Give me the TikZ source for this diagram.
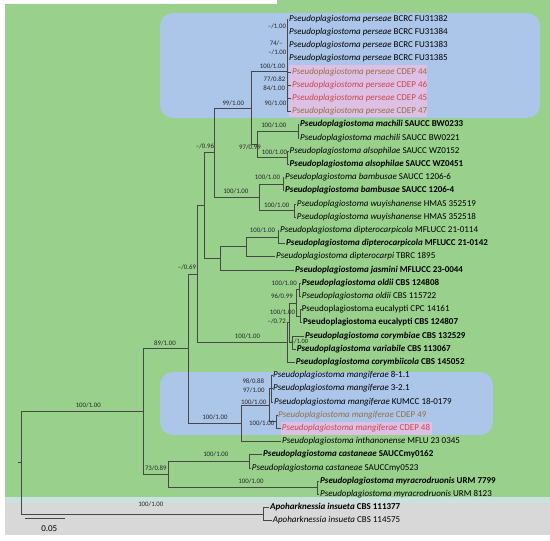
\documentclass[tikz,border=0pt]{standalone}
\usepackage{fontspec}
\setmainfont{Carlito}
\definecolor{bggreen}{RGB}{152,208,140}
\definecolor{bgblue}{RGB}{172,198,234}
\definecolor{bggrey}{RGB}{216,216,216}
\definecolor{bgstrip}{RGB}{200,226,222}
\definecolor{bgpink}{RGB}{222,192,228}
\definecolor{cdepred}{RGB}{200,70,80}
\definecolor{cdepbrown}{RGB}{150,110,70}
\tikzset{
  br/.style={draw=black!72, line width=0.55pt},
  tip/.style={anchor=west, inner xsep=1pt, inner ysep=0pt, text height=6.2pt, text depth=1.8pt, font=\fontsize{9}{10}\selectfont},
  bs/.style={inner sep=0pt, text height=4.8pt, text depth=0.1pt, font=\fontsize{6.8}{7}\selectfont, text=black!85},
}
\newcommand{\ps}[1]{\textit{Pseudoplagiostoma #1}}
\begin{document}
\begin{tikzpicture}[x=1pt,y=-1pt]
\useasboundingbox (0,0) rectangle (550,541);
% backgrounds
\fill[white] (0,0) rectangle (550,541);
\fill[bggreen] (5,4) rectangle (550,497);
\fill[bggreen] (277,0) rectangle (550,4);
\fill[bgstrip] (5,497) rectangle (550,503);
\fill[bggrey] (5,503) rectangle (550,535);
\fill[bgblue, rounded corners=13pt] (160,13) rectangle (540,118);
\fill[bgblue, rounded corners=13pt] (160,372) rectangle (493,435);
\fill[bgpink] (289,65) rectangle (427,117);
\fill[bgpink] (281,421.5) rectangle (432,435);

% tree node coordinates
\coordinate (r) at (21,462.6);
\coordinate (rs) at (18,462.6);
\coordinate (ing) at (143,411.2);
\coordinate (out) at (263,514.0);
\coordinate (A89) at (188.3,348.6);
\coordinate (B73) at (168,474.4);
\coordinate (cast) at (249.3,461.2);
\coordinate (myr) at (317,487.6);
\coordinate (N069) at (197.7,273.9);
\coordinate (X) at (204,205.4);
\coordinate (N096) at (214.3,152.6);
\coordinate (N99) at (251,108.0);
\coordinate (pers) at (287,71.7);
\coordinate (n257) at (257.7,144.4);
\coordinate (mach) at (298.3,131.2);
\coordinate (als) at (287.7,157.6);
\coordinate (BW) at (259.3,197.2);
\coordinate (bam) at (283.3,184.0);
\coordinate (wuy) at (294.5,210.4);
\coordinate (n220) at (220,258.25);
\coordinate (n247) at (246.7,246.7);
\coordinate (dipc) at (278,236.8);
\coordinate (G) at (287,342.4);
\coordinate (P) at (289.5,322.6);
\coordinate (Q) at (296.5,302.8);
\coordinate (old) at (299.5,289.6);
\coordinate (euc) at (300.5,316.0);
\coordinate (R) at (292,342.4);
\coordinate (Mg) at (241,423.25);
\coordinate (M) at (269,405.1);
\coordinate (M1) at (271.5,388.6);
\coordinate (cd) at (276.5,421.6);

% tips
\node[tip] (t0) at (288,19.0) {\ps{perseae} BCRC FU31382};
\node[tip] (t1) at (288,32.2) {\ps{perseae} BCRC FU31384};
\node[tip] (t2) at (288,45.4) {\ps{perseae} BCRC FU31383};
\node[tip] (t3) at (288,58.6) {\ps{perseae} BCRC FU31385};
\node[tip, text=cdepbrown] (t4) at (291,71.8) {\ps{perseae} CDEP 44};
\node[tip, text=cdepred] (t5) at (291,85.0) {\ps{perseae} CDEP 46};
\node[tip, text=cdepred] (t6) at (291,98.2) {\ps{perseae} CDEP 45};
\node[tip, text=cdepbrown] (t7) at (291,111.4) {\ps{perseae} CDEP 47};
\node[tip] (t8) at (299,124.6) {\textbf{\ps{machili} SAUCC BW0233}};
\node[tip] (t9) at (299,137.8) {\ps{machili} SAUCC BW0221};
\node[tip] (t10) at (288.5,151.0) {\ps{alsophilae} SAUCC WZ0152};
\node[tip] (t11) at (288.5,164.2) {\textbf{\ps{alsophilae} SAUCC WZ0451}};
\node[tip] (t12) at (284,177.4) {\ps{bambusae} SAUCC 1206-6};
\node[tip] (t13) at (284,190.6) {\textbf{\ps{bambusae} SAUCC 1206-4}};
\node[tip] (t14) at (295.7,203.8) {\ps{wuyishanense} HMAS 352519};
\node[tip] (t15) at (295.7,217.0) {\ps{wuyishanense} HMAS 352518};
\node[tip] (t16) at (279,230.2) {\ps{dipterocarpicola} MFLUCC 21-0114};
\node[tip] (t17) at (285,243.4) {\textbf{\ps{dipterocarpicola} MFLUCC 21-0142}};
\node[tip] (t18) at (275,256.6) {\ps{dipterocarpi} TBRC 1895};
\node[tip] (t19) at (294,269.8) {\textbf{\ps{jasmini} MFLUCC 23-0044}};
\node[tip] (t20) at (300.7,283.0) {\textbf{\ps{oldii} CBS 124808}};
\node[tip] (t21) at (300.7,296.2) {\ps{oldii} CBS 115722};
\node[tip] (t22) at (300.7,309.4) {Pseudoplagiostoma eucalypti CPC 14161};
\node[tip] (t23) at (302,322.6) {\textbf{Pseudoplagiostoma eucalypti CBS 124807}};
\node[tip] (t24) at (304,335.8) {\textbf{\ps{corymbiae} CBS 132529}};
\node[tip] (t25) at (295.7,349.0) {\textbf{\ps{variabile} CBS 113067}};
\node[tip] (t26) at (294.7,362.2) {\textbf{\ps{corymbiicola} CBS 145052}};
\node[tip] (t27) at (272,375.4) {\ps{mangiferae} 8-1.1};
\node[tip] (t28) at (272,388.6) {\ps{mangiferae} 3-2.1};
\node[tip] (t29) at (273,401.8) {\ps{mangiferae} KUMCC 18-0179};
\node[tip, text=cdepbrown] (t30) at (277,415.0) {\ps{mangiferae} CDEP 49};
\node[tip, text=cdepred] (t31) at (280.7,428.2) {\ps{mangiferae} CDEP 48};
\node[tip] (t32) at (281,441.4) {\ps{inthanonense} MFLU 23 0345};
\node[tip] (t33) at (262,454.6) {\textbf{\ps{castaneae} SAUCCmy0162}};
\node[tip] (t34) at (250.7,467.8) {\ps{castaneae} SAUCCmy0523};
\node[tip] (t35) at (319,481.0) {\textbf{\ps{myracrodruonis} URM 7799}};
\node[tip] (t36) at (319,494.2) {\ps{myracrodruonis} URM 8123};
\node[tip] (t37) at (269,507.4) {\textbf{\textit{Apoharknessia insueta} CBS 111377}};
\node[tip] (t38) at (271.7,520.6) {\textit{Apoharknessia insueta} CBS 114575};

% branches
\draw[br] (rs) -- (r);
\draw[br] (r) |- (ing);
\draw[br] (r) |- (out);
\draw[br] (out) |- (t37.west);
\draw[br] (out) |- (t38.west);
\draw[br] (ing) |- (A89);
\draw[br] (ing) |- (B73);
\draw[br] (B73) |- (cast);
\draw[br] (B73) |- (myr);
\draw[br] (cast) |- (t33.west);
\draw[br] (cast) |- (t34.west);
\draw[br] (myr) |- (t35.west);
\draw[br] (myr) |- (t36.west);
\draw[br] (A89) |- (N069);
\draw[br] (A89) |- (Mg);
\draw[br] (N069) |- (X);
\draw[br] (N069) |- (G);
\draw[br] (X) |- (N096);
\draw[br] (X) |- (n220);
\draw[br] (N096) |- (N99);
\draw[br] (N096) |- (BW);
\draw[br] (N99) |- (pers);
\draw[br] (N99) |- (n257);
\foreach \i in {0,...,7} {\draw[br] (pers) |- (t\i.west);}
\draw[br] (n257) |- (mach);
\draw[br] (n257) |- (als);
\draw[br] (mach) |- (t8.west);
\draw[br] (mach) |- (t9.west);
\draw[br] (als) |- (t10.west);
\draw[br] (als) |- (t11.west);
\draw[br] (BW) |- (bam);
\draw[br] (BW) |- (wuy);
\draw[br] (bam) |- (t12.west);
\draw[br] (bam) |- (t13.west);
\draw[br] (wuy) |- (t14.west);
\draw[br] (wuy) |- (t15.west);
\draw[br] (n220) |- (n247);
\draw[br] (n220) |- (t19.west);
\draw[br] (n247) |- (dipc);
\draw[br] (n247) |- (t18.west);
\draw[br] (dipc) |- (t16.west);
\draw[br] (dipc) |- (t17.west);
\draw[br] (G) |- (P);
\draw[br] (G) |- (t26.west);
\draw[br] (P) |- (Q);
\draw[br] (P) |- (R);
\draw[br] (Q) |- (old);
\draw[br] (Q) |- (euc);
\draw[br] (old) |- (t20.west);
\draw[br] (old) |- (t21.west);
\draw[br] (euc) |- (t22.west);
\draw[br] (euc) |- (t23.west);
\draw[br] (R) |- (t24.west);
\draw[br] (R) |- (t25.west);
\draw[br] (Mg) |- (M);
\draw[br] (Mg) |- (t32.west);
\draw[br] (M) |- (M1);
\draw[br] (M) |- (cd);
\draw[br] (M1) |- (t27.west);
\draw[br] (M1) |- (t28.west);
\draw[br] (M1) |- (t29.west);
\draw[br] (cd) |- (t30.west);
\draw[br] (cd) |- (t31.west);

% support labels
\node[bs] (l1) at (277,26.3) {–/1.00};
\node[bs] (l2) at (276.3,43.3) {74/–};
\node[bs] (l3) at (277.3,52.3) {–/1.00};
\node[bs] (l4) at (272.5,66.3) {100/1.00};
\node[bs] (l5) at (274.5,78.7) {77/0.82};
\node[bs] (l6) at (274.2,87.8) {84/1.00};
\node[bs] (l7) at (275.5,102.7) {90/1.00};
\node[bs] (l8) at (233.3,103.5) {99/1.00};
\node[bs] (l9) at (273.8,125.5) {100/1.00};
\node[bs] (l10) at (250,147.2) {97/0.99};
\node[bs] (l11) at (274.5,151.7) {100/1.00};
\node[bs] (l12) at (205,146) {–/0.96};
\node[bs] (l13) at (267.5,177.3) {100/1.00};
\node[bs] (l14) at (235.8,190.7) {100/1.00};
\node[bs] (l15) at (276.7,205) {100/1.00};
\node[bs] (l16) at (262.5,230) {100/1.00};
\node[bs] (l17) at (187,267.2) {–/0.69};
\node[bs] (l18) at (284.2,283.3) {100/1.00};
\node[bs] (l19) at (282,296) {96/0.99};
\node[bs] (l20) at (282.5,312.3) {100/1.00};
\node[bs] (l21) at (276.7,320.7) {–/0.72};
\node[bs] (l22) at (247.5,336) {100/1.00};
\node[bs, font=\fontsize{6.4}{7}\selectfont] (l23) at (299.5,341.3) {–/1.00};
\node[bs] (l24) at (165,342.7) {89/1.00};
\node[bs] (l25) at (253.3,381) {98/0.88};
\node[bs] (l26) at (253.8,390) {97/1.00};
\node[bs] (l27) at (253.7,401.7) {100/1.00};
\node[bs] (l28) at (261.7,423.3) {100/1.00};
\node[bs] (l29) at (215,417.3) {100/1.00};
\node[bs] (l30) at (215.8,454.3) {100/1.00};
\node[bs] (l31) at (155.8,467.7) {73/0.89};
\node[bs] (l32) at (251,480.7) {100/1.00};
\node[bs] (l33) at (88.3,405) {100/1.00};
\node[bs] (l34) at (150.8,504.3) {100/1.00};

% scale bar
\coordinate (sb1) at (25,518.3);
\coordinate (sb2) at (65,518.3);
\draw[br] (sb1) -- (sb2);
\node[inner sep=0pt, font=\fontsize{9}{10}\selectfont] (sbl) at (49.3,529) {0.05};
\end{tikzpicture}
\end{document}
